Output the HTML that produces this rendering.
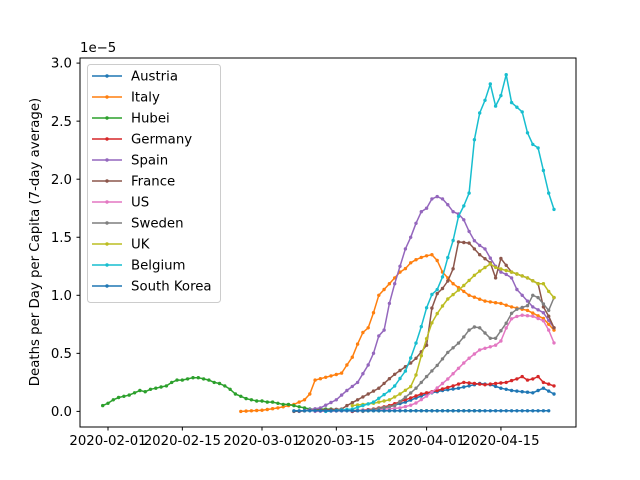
<!DOCTYPE html>
<html><head><meta charset="utf-8"><style>
html,body{margin:0;padding:0;background:#fff}
svg{display:block;font-family:"DejaVu Sans","Liberation Sans",sans-serif}
</style></head><body>
<svg id="s" width="640" height="480" viewBox="0 0 640 480" xmlns="http://www.w3.org/2000/svg">
<rect width="640" height="480" fill="#fff"/>
<g id="plot"></g>
<rect x="80" y="58" width="496" height="369" fill="none" stroke="#000" stroke-width="1"/>
<g id="ticks" font-size="13.3" fill="#000"></g>
<text x="80" y="52" font-size="13.3">1e−5</text>
<text transform="translate(39,242) rotate(-90)" font-size="13.3" text-anchor="middle">Deaths per Day per Capita (7-day average)</text>
<g id="legend"></g>
</svg>
<script>
const NS="http://www.w3.org/2000/svg";
const X=d=>108+5.31*d, Y=v=>411.4-116.1*v;
function el(p,t,a,txt){const e=document.createElementNS(NS,t);for(const k in a)e.setAttribute(k,a[k]);if(txt!==undefined)e.textContent=txt;p.appendChild(e);return e;}
const S=[
["Austria","#1f77b4",[[46,0],[52,0.03],[56,0.08],[60,0.15],[63,0.18],[66,0.2],[70,0.24],[72,0.23],[74,0.2],[76,0.18],[78,0.17],[80,0.16],[82,0.2],[84,0.15]]],
["Italy","#ff7f0e",[[25,0],[29,0.01],[32,0.03],[35,0.06],[37,0.1],[38,0.15],[39,0.27],[44,0.33],[45,0.4],[46.5,0.5],[47,0.58],[48,0.68],[49,0.72],[49.5,0.8],[50.5,0.9],[51,1.0],[52,1.05],[53,1.1],[55,1.2],[56,1.23],[57,1.28],[58.5,1.32],[60,1.34],[61,1.35],[62,1.3],[63,1.2],[65,1.1],[68,1.0],[71,0.95],[74,0.93],[76,0.9],[79,0.87],[82,0.8],[84,0.7]]],
["Hubei","#2ca02c",[[-1,0.05],[0,0.07],[1,0.1],[2,0.12],[3,0.13],[4,0.14],[5,0.16],[6,0.18],[7,0.17],[8,0.19],[9,0.2],[10,0.21],[11,0.22],[12,0.25],[13,0.27],[14,0.27],[15,0.28],[16,0.29],[17,0.29],[18,0.28],[19,0.27],[20,0.25],[21,0.24],[22,0.22],[23,0.19],[24,0.15],[25,0.13],[26,0.11],[27,0.1],[28,0.09],[29,0.09],[30,0.08],[31,0.08],[32,0.07],[33,0.06],[34,0.06],[35,0.05],[36,0.04],[37,0.03],[38,0.02],[42,0.02],[44,0.01],[50,0.005],[70,0.005]]],
["Germany","#d62728",[[46,0],[50,0.02],[53,0.05],[56,0.1],[59,0.15],[62,0.18],[65,0.22],[67,0.25],[69,0.24],[71,0.23],[73,0.24],[75,0.25],[77,0.28],[78,0.3],[79,0.27],[80,0.28],[81,0.3],[82,0.25],[84,0.22]]],
["Spain","#9467bd",[[36,0],[40,0.03],[43,0.1],[45,0.18],[47,0.25],[49,0.4],[50,0.5],[51,0.65],[52,0.7],[53,0.93],[54,1.1],[55,1.25],[56,1.4],[57,1.5],[58,1.62],[59,1.72],[60,1.75],[61,1.83],[62,1.85],[63,1.83],[64,1.78],[65,1.72],[66,1.7],[67,1.65],[68,1.55],[69,1.47],[70,1.43],[71,1.4],[72,1.32],[73,1.25],[74,1.2],[75,1.18],[76,1.15],[77,1.05],[78,1.0],[79,0.95],[80,0.9],[82,0.85],[84,0.72]]],
["France","#8c564b",[[35,0],[44,0.02],[45,0.05],[49,0.15],[51,0.2],[53.7,0.31],[57.7,0.44],[60,0.57],[61,0.89],[62.2,1.04],[63.5,1.07],[65.3,1.26],[66,1.46],[68,1.45],[70,1.35],[72,1.28],[73,1.15],[73.6,1.34],[76,1.2],[79,1.15],[81,1.1],[82,0.9],[83,0.82],[84,0.72]]],
["US","#e377c2",[[39,0],[50,0.01],[55,0.03],[57.6,0.06],[60.6,0.15],[63.8,0.27],[67.5,0.44],[70,0.53],[73,0.57],[74.1,0.61],[75.6,0.79],[77.6,0.83],[80,0.82],[82,0.78],[83,0.7],[84,0.59]]],
["Sweden","#7f7f7f",[[48,0],[54,0.05],[57.6,0.18],[60.6,0.33],[62.3,0.41],[63.8,0.5],[66.3,0.6],[68.5,0.73],[70,0.72],[72,0.63],[73,0.63],[75,0.76],[76.3,0.87],[79,0.91],[80,1.0],[81,0.98],[83,0.87],[84,0.98]]],
["UK","#bcbd22",[[46,0.05],[50,0.07],[53,0.1],[55,0.15],[57.5,0.23],[59.3,0.53],[61.2,0.79],[63.8,0.96],[66.9,1.08],[69.4,1.19],[72,1.27],[73,1.24],[76,1.2],[79,1.15],[81,1.1],[82,1.1],[83.5,1.0],[84,0.98]]],
["Belgium","#17becf",[[41,0],[46,0.02],[50,0.08],[53.7,0.2],[56.2,0.36],[57.8,0.56],[59,0.73],[60.6,0.99],[62.5,1.07],[63.8,1.3],[64.7,1.41],[66,1.68],[67,1.77],[68,1.88],[69,2.34],[70,2.57],[71,2.68],[72,2.82],[73,2.63],[74,2.72],[75,2.9],[76,2.66],[77,2.62],[78,2.58],[79,2.4],[80,2.3],[81,2.27],[83,1.88],[84,1.74]]],
["South Korea","#1f77b4",[[35,0.005],[83,0.005]]]
];
function interp(k,d){for(let i=0;i<k.length-1;i++){if(d>=k[i][0]&&d<=k[i+1][0]){const t=(d-k[i][0])/((k[i+1][0]-k[i][0])||1);return k[i][1]+t*(k[i+1][1]-k[i][1]);}}return k[k.length-1][1];}
const P=document.getElementById('plot');
for(const [n,c,k] of S){
  const a=Math.ceil(k[0][0]),b=Math.floor(k[k.length-1][0]);let pts=[];
  for(let d=a;d<=b;d++)pts.push([X(d),Y(interp(k,d))]);
  el(P,'polyline',{points:pts.map(p=>p[0].toFixed(1)+','+p[1].toFixed(1)).join(' '),fill:'none',stroke:c,'stroke-width':1.5,'stroke-linejoin':'round'});
  for(const p of pts)el(P,'circle',{cx:p[0].toFixed(1),cy:p[1].toFixed(1),r:1.7,fill:c});
}
const T=document.getElementById('ticks');
for(let v=0;v<=3;v+=0.5){const y=Y(v);el(T,'line',{x1:76.5,x2:80,y1:y,y2:y,stroke:'#000'});el(T,'text',{x:72,y:y+4.6,'text-anchor':'end'},v.toFixed(1));}
[[0,'2020-02-01'],[14,'2020-02-15'],[29,'2020-03-01'],[43,'2020-03-15'],[60,'2020-04-01'],[74,'2020-04-15']].forEach(([d,l])=>{const x=X(d);el(T,'line',{x1:x,x2:x,y1:427,y2:430.5,stroke:'#000'});el(T,'text',{x:x,y:445,'text-anchor':'middle'},l);});
const L=document.getElementById('legend');
el(L,'rect',{x:87.5,y:64.5,width:133,height:238,rx:3,fill:'#fff','fill-opacity':0.8,stroke:'#ccc'});
S.forEach(([n,c],i)=>{const y=76+i*21;el(L,'line',{x1:92,x2:122,y1:y,y2:y,stroke:c,'stroke-width':1.5});el(L,'circle',{cx:107,cy:y,r:1.7,fill:c});el(L,'text',{x:131,y:y+4.6,'font-size':13.3},n);});
</script>
</body></html>
